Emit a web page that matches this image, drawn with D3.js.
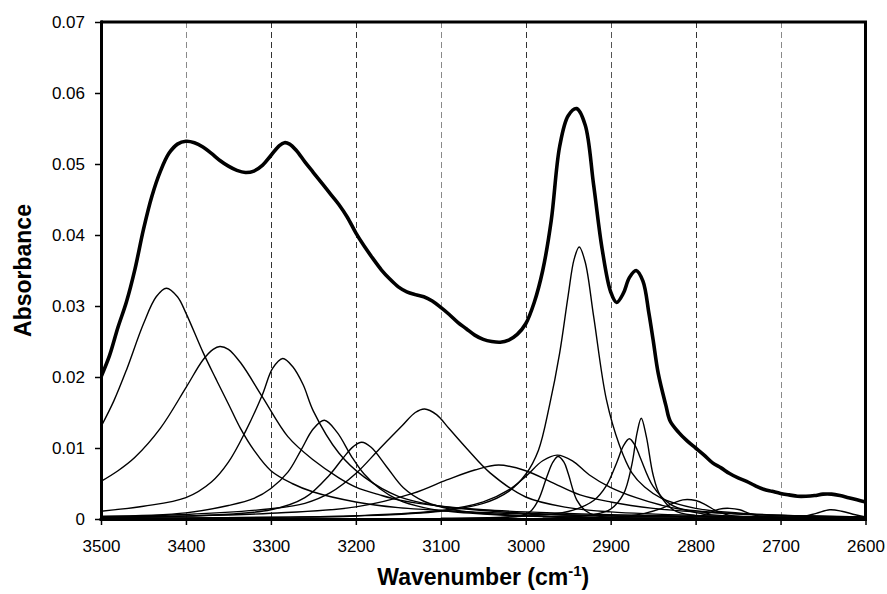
<!DOCTYPE html>
<html><head><meta charset="utf-8">
<script src="https://cdn.jsdelivr.net/npm/d3@7"></script>
<style>
body{margin:0;background:#fff}
svg{display:block}
text{font-family:"Liberation Sans",Arial,Helvetica,sans-serif;fill:#000}
</style>
</head><body>
<svg id="chart" width="887" height="594"></svg>
<script>
// ---- tick labels ----
const xTicks = [3500,3400,3300,3200,3100,3000,2900,2800,2700,2600];
const yTicks = [0,0.01,0.02,0.03,0.04,0.05,0.06,0.07];
const yTickLabels = ["0","0.01","0.02","0.03","0.04","0.05","0.06","0.07"];
const gridTicks = [3400,3300,3200,3100,3000,2900,2800,2700];
const gridShade = ["#8a8a8a","#333","#333","#8a8a8a","#333","#555","#333","#8a8a8a"];

// ---- measured spectrum (wavenumber, absorbance) ----
const total = [
[3500,0.0200],[3490,0.0230],[3480,0.0270],[3470,0.0306],[3460,0.0352],[3450,0.0408],[3440,0.0455],
[3430,0.0490],[3420,0.0515],[3410,0.0528],[3400,0.0532],[3390,0.0530],[3380,0.0524],[3370,0.0515],
[3360,0.0505],[3350,0.0497],[3340,0.0491],[3330,0.0488],[3320,0.0490],[3310,0.0498],[3300,0.0512],
[3290,0.0526],[3284,0.0530],[3278,0.0528],[3270,0.0519],[3260,0.0503],[3250,0.0488],[3240,0.0473],
[3230,0.0458],[3220,0.0443],[3210,0.0425],[3200,0.0403],[3190,0.0384],[3180,0.0367],[3170,0.0351],
[3160,0.0338],[3150,0.0327],[3140,0.0320],[3130,0.0316],[3120,0.0313],[3110,0.0307],[3100,0.0298],
[3090,0.0288],[3080,0.0277],[3070,0.0268],[3060,0.0259],[3050,0.0253],[3040,0.0250],[3030,0.0249],
[3020,0.0252],[3010,0.0260],[3000,0.0275],[2990,0.0305],[2980,0.0350],[2970,0.0420],[2960,0.0525],
[2950,0.0568],[2940,0.0578],[2930,0.0555],[2920,0.0470],[2910,0.0380],[2900,0.0320],[2893,0.0305],
[2885,0.0318],[2878,0.0340],[2870,0.0350],[2862,0.0335],[2855,0.0290],[2850,0.0252],[2844,0.0205],
[2835,0.0160],[2830,0.0138],[2820,0.0122],[2810,0.0110],[2800,0.0100],[2790,0.0090],[2780,0.0079],
[2770,0.0072],[2760,0.0064],[2750,0.0058],[2740,0.0053],[2730,0.0047],[2720,0.0042],[2710,0.0039],
[2700,0.0036],[2690,0.0034],[2680,0.0032],[2670,0.0032],[2660,0.0033],[2650,0.0035],[2640,0.0035],
[2630,0.0033],[2620,0.0030],[2610,0.0027],[2600,0.0024]
];

// ---- fitted component bands (wavenumber, absorbance) ----
const band1 = [[3500,0.0130],[3485,0.0166],[3470,0.0210],[3450,0.0275],[3435,0.0313],[3423,0.0325],[3410,0.0313],[3400,0.0290],[3380,0.0235],[3365,0.0198],[3350,0.0162],[3336,0.0128],[3320,0.0097],[3300,0.0068],[3275,0.0050],[3250,0.0038],[3200,0.0024],[3150,0.0016],[3100,0.0012],[3000,0.0007],[2900,0.00046],[2800,0.0003],[2700,0.0002],[2600,0.00015]];
const band2 = [[3500,0.0053],[3480,0.0068],[3460,0.0087],[3430,0.0128],[3400,0.0185],[3380,0.0224],[3368,0.0239],[3360,0.0243],[3350,0.0239],[3335,0.0219],[3310,0.0172],[3280,0.0116],[3250,0.0083],[3220,0.0058],[3200,0.0045],[3172,0.0034],[3150,0.0027],[3100,0.0018],[3050,0.0013],[3000,0.0010],[2900,0.0006],[2800,0.0004],[2700,0.0003],[2600,0.0002]];
const band3 = [[3500,0.0011],[3450,0.0018],[3400,0.0030],[3370,0.0052],[3350,0.0080],[3330,0.0123],[3310,0.0175],[3298,0.0212],[3286,0.0226],[3274,0.0214],[3262,0.0189],[3250,0.0152],[3220,0.0093],[3190,0.0059],[3150,0.0032],[3100,0.0018],[3050,0.0012],[3000,0.0008],[2900,0.0004],[2800,0.0003],[2700,0.0002],[2600,0.00015]];
const band4 = [[3500,0.00035],[3400,0.00087],[3350,0.0019],[3320,0.0029],[3300,0.0043],[3280,0.0066],[3265,0.0096],[3250,0.0127],[3237,0.0139],[3222,0.0122],[3205,0.0088],[3190,0.0063],[3172,0.0043],[3150,0.0027],[3120,0.0016],[3100,0.0012],[3050,0.0007],[3000,0.00042],[2900,0.0002],[2800,0.0001],[2600,0.00005]];
const band5 = [[3500,0.00018],[3400,0.0004],[3300,0.0013],[3260,0.0030],[3231,0.0062],[3215,0.0086],[3203,0.0102],[3193,0.0108],[3182,0.0101],[3164,0.0074],[3144,0.0044],[3120,0.0025],[3080,0.0012],[3000,0.00045],[2900,0.0002],[2800,0.0001],[2600,0.00005]];
const band6 = [[3500,0.00035],[3400,0.00064],[3300,0.00145],[3260,0.0022],[3230,0.0037],[3200,0.0064],[3172,0.0099],[3145,0.0132],[3130,0.0150],[3119,0.0155],[3105,0.0147],[3090,0.0127],[3070,0.0100],[3042,0.0065],[3000,0.0031],[2950,0.0016],[2900,0.0010],[2800,0.0005],[2700,0.0003],[2600,0.0002]];
const band7 = [[3500,0.00027],[3400,0.00043],[3300,0.0008],[3200,0.0017],[3133,0.0036],[3093,0.0055],[3060,0.0069],[3032,0.0076],[3000,0.0068],[2970,0.0052],[2936,0.0034],[2900,0.0024],[2850,0.0015],[2800,0.0010],[2700,0.0005],[2600,0.0003]];
const band8 = [[3500,0.0001],[3300,0.00024],[3200,0.00046],[3100,0.0012],[3050,0.0024],[3020,0.0041],[3000,0.0060],[2980,0.0082],[2963,0.0090],[2945,0.0082],[2925,0.0062],[2901,0.0045],[2870,0.0030],[2842,0.0020],[2819,0.0014],[2750,0.0007],[2700,0.0005],[2600,0.0003]];
const band9 = [[3100,0.00005],[3030,0.0002],[3005,0.0005],[2995,0.0010],[2985,0.0027],[2975,0.0060],[2968,0.0080],[2962,0.0088],[2955,0.0080],[2950,0.0064],[2940,0.0027],[2930,0.0012],[2918,0.0005],[2900,0.0002],[2850,0.00005]];
const band10 = [[3500,0.0001],[3300,0.00023],[3200,0.00043],[3100,0.0011],[3050,0.0022],[3020,0.0039],[3000,0.0063],[2985,0.0097],[2972,0.0160],[2960,0.0234],[2950,0.0315],[2943,0.0366],[2937,0.0383],[2930,0.0362],[2920,0.0285],[2905,0.0168],[2890,0.0105],[2875,0.0065],[2860,0.0045],[2840,0.0029],[2800,0.0015],[2750,0.00084],[2700,0.00053],[2600,0.00026]];
const band11 = [[3100,0.0001],[3000,0.0004],[2950,0.00105],[2920,0.0026],[2905,0.0047],[2893,0.0079],[2885,0.0103],[2878,0.0113],[2871,0.0103],[2865,0.0086],[2850,0.0046],[2830,0.0021],[2800,0.0009],[2750,0.00035],[2700,0.0002],[2600,0.0001]];
const band12 = [[2980,0.0001],[2950,0.00027],[2920,0.00062],[2900,0.0014],[2885,0.0035],[2875,0.0077],[2869,0.0121],[2864,0.0142],[2858,0.0116],[2850,0.0062],[2842,0.0034],[2825,0.0012],[2800,0.00048],[2750,0.00016],[2700,0.00008]];
const band13 = [[2920,0.0001],[2880,0.0004],[2860,0.0008],[2840,0.0015],[2825,0.0023],[2815,0.0027],[2800,0.0026],[2788,0.0020],[2775,0.0011],[2760,0.0005],[2730,0.0002],[2700,0.0001]];
const band14 = [[2820,0.0001],[2800,0.0003],[2785,0.0008],[2772,0.0014],[2760,0.0015],[2748,0.0013],[2735,0.0007],[2715,0.0002],[2690,0.0001]];
const band15 = [[2700,0.0001],[2675,0.0003],[2658,0.0008],[2642,0.0013],[2628,0.0011],[2612,0.0006],[2600,0.0003]];
const bands = [band1,band2,band3,band4,band5,band6,band7,band8,band9,band10,band11,band12,band13,band14,band15];

// ---- drawing ----
const svg = d3.select("#chart");
const L = 101, R = 865.5, T = 22, B = 519;
const x = d3.scaleLinear().domain([3500,2600]).range([L,R]);
const y = d3.scaleLinear().domain([0,0.07]).range([B,T]);

svg.append("rect").attr("width",887).attr("height",594).attr("fill","#fff");

svg.append("defs").append("clipPath").attr("id","plot")
  .append("rect").attr("x",L).attr("y",T).attr("width",R-L).attr("height",B-T);

// grid
svg.append("g").selectAll("line").data(gridTicks).join("line")
  .attr("x1",d=>Math.round(x(d))+0.5).attr("x2",d=>Math.round(x(d))+0.5)
  .attr("y1",T).attr("y2",B)
  .attr("stroke",(d,i)=>gridShade[i]).attr("stroke-width",1).attr("stroke-dasharray","6,4");

const line = d3.line().x(d=>x(d[0])).y(d=>y(d[1])).curve(d3.curveCatmullRom.alpha(0.5));

const plot = svg.append("g").attr("clip-path","url(#plot)");
plot.selectAll("path.band").data(bands).join("path").attr("class","band")
  .attr("d",line).attr("fill","none").attr("stroke","#000").attr("stroke-width",1.4)
  .attr("stroke-linejoin","round");
plot.append("path").datum(total).attr("d",line).attr("fill","none")
  .attr("stroke","#000").attr("stroke-width",3.6).attr("stroke-linejoin","round");

// frame top & right
svg.append("line").attr("x1",L).attr("x2",R+1.5).attr("y1",T).attr("y2",T).attr("stroke","#000").attr("stroke-width",3);
svg.append("line").attr("x1",R).attr("x2",R).attr("y1",T).attr("y2",B).attr("stroke","#000").attr("stroke-width",3);

// axes
const yAxis = svg.append("g").attr("transform",`translate(${L},0)`)
  .call(d3.axisLeft(y).tickValues(yTicks).tickFormat((d,i)=>yTickLabels[i]).tickSize(6).tickPadding(10).tickSizeOuter(0));
const xAxis = svg.append("g").attr("transform",`translate(0,${B})`)
  .call(d3.axisBottom(x).tickValues(xTicks).tickFormat(d=>d).tickSize(6).tickPadding(15).tickSizeOuter(0));
[yAxis,xAxis].forEach(a=>{
  a.select(".domain").attr("stroke","#000").attr("stroke-width",3);
  a.selectAll(".tick line").attr("stroke","#000").attr("stroke-width",1.5);
  a.selectAll(".tick text").attr("font-size",17).attr("font-family","Liberation Sans, Arial, sans-serif").attr("fill","#000");
});
yAxis.select(".domain").attr("d",`M0.5,${B+1.5}V${T-1.5}`);
xAxis.select(".domain").attr("d",`M${L-1.5},0.5H${R+1.5}`);

// titles
svg.append("text").attr("transform",`translate(31,${(T+B)/2}) rotate(-90)`)
  .attr("text-anchor","middle").attr("font-size",23).attr("font-weight","bold").text("Absorbance");
const xt = svg.append("text").attr("x",(L+R)/2).attr("y",585)
  .attr("text-anchor","middle").attr("font-size",23).attr("font-weight","bold");
xt.append("tspan").text("Wavenumber (cm");
xt.append("tspan").attr("dy",-9).attr("font-size",15).text("-1");
xt.append("tspan").attr("dy",9).text(")");
</script>
</body></html>
